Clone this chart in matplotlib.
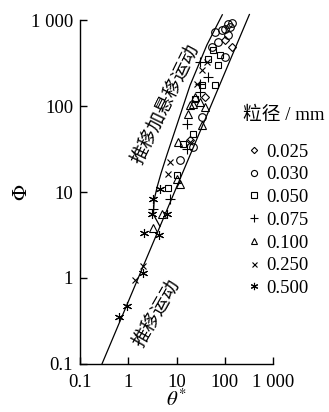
import numpy as np
import matplotlib
matplotlib.use("Agg")
import matplotlib.pyplot as plt
from matplotlib.ticker import FixedLocator, FixedFormatter, NullLocator

plt.rcParams['font.family'] = ['Liberation Serif', 'Noto Sans CJK SC']
plt.rcParams['mathtext.fontset'] = 'stix'

# data: theta*, Phi for each grain size (mm)
d025_x = [140, 100, 38.7, 18.9]
d025_y = [481, 580, 127, 40.5]
d030_x = [140, 116, 128, 100, 87, 116, 100, 72, 54, 62, 33.6, 21.9, 11.7]
d030_y = [935, 887, 819, 777, 756, 662, 369, 550, 481, 717, 74.6, 33.6, 23.8]
d050_x = [10.2, 6.6, 13.6, 79, 72, 62, 33.6, 21.9, 57, 45, 24]
d050_y = [15.9, 11.0, 36.4, 389, 298, 175, 175, 47.5, 444, 349, 120]
d075_x = [7.3, 3.25, 16.4, 16.4, 44.7, 30.5, 30.5, 30.5]
d075_y = [8.4, 6.3, 31.8, 61.8, 216, 180, 323, 145]
d100_x = [3.25, 5.0, 10.2, 11.7, 10.7, 33.6, 18.9, 24, 30.5, 38.7, 17.2, 21.9]
d100_y = [3.79, 5.5, 14.0, 12.5, 38.4, 60.3, 103, 127, 111, 97, 80.8, 105]
d250_x = [1.38, 2.0, 6.6, 7.3, 18.9, 42.7, 33.6, 26.4]
d250_y = [0.95, 1.38, 16.4, 22.5, 38.4, 323, 261, 180]
d500_x = [0.64, 0.94, 2.0, 2.1, 4.3, 3.1, 6.3, 3.25, 4.5]
d500_y = [0.35, 0.47, 1.15, 3.3, 3.2, 5.6, 5.6, 8.4, 10.7]

sizes = ['0.025', '0.030', '0.050', '0.075', '0.100', '0.250', '0.500']

# boundary lines
line_x = [0.285, 324]
line_y = [0.1, 1158]
curve_x = [4.55, 3.31, 3.47, 3.98, 4.79, 6.31, 10.2, 19.1, 42.7, 89]
curve_y = [3.98, 5.5, 8.3, 11.5, 16.6, 26.9, 60.3, 174, 513, 1150]

fig = plt.figure(figsize=(3.29, 4.12), dpi=100)
ax = fig.add_axes([80/329, 1-364/412, (273-80)/329, (364-20)/412])
ax.set_xscale('log')
ax.set_yscale('log')
ax.set_xlim(0.1, 1000)
ax.set_ylim(0.1, 1000)

ax.plot(line_x, line_y, color='black', lw=0.9, clip_on=False)
ax.plot(curve_x, curve_y, color='black', lw=0.9, clip_on=False)

series = [(d025_x, d025_y, 'D', 4), (d030_x, d030_y, 'o', 5.5),
          (d050_x, d050_y, 's', 5), (d075_x, d075_y, '+', 6.5),
          (d100_x, d100_y, '^', 6), (d250_x, d250_y, 'x', 4.5),
          (d500_x, d500_y, (6, 2, 0), 6.5)]
handles = []
for (xs, ys, m, ms), lab in zip(series, sizes):
    h, = ax.plot(xs, ys, ls='none', marker=m, ms=ms, mfc='none', mec='black',
                 mew=0.8, label=lab, clip_on=False)
    handles.append(h)

for side in ['top', 'right']:
    ax.spines[side].set_visible(False)
ax.spines['left'].set_linewidth(1.0)
ax.spines['bottom'].set_linewidth(1.0)

ticks = [0.1, 1, 10, 100, 1000]
labels = ['0.1', '1', '10', '100', '1 000']
ax.xaxis.set_major_locator(FixedLocator(ticks))
ax.xaxis.set_major_formatter(FixedFormatter(labels))
ax.yaxis.set_major_locator(FixedLocator(ticks))
ax.yaxis.set_major_formatter(FixedFormatter(labels))
ax.xaxis.set_minor_locator(NullLocator())
ax.yaxis.set_minor_locator(NullLocator())
ax.tick_params(direction='in', length=5, width=1.0, labelsize=13.5)
ax.tick_params(axis='x', pad=7)
ax.tick_params(axis='y', pad=5)

ax.set_xlabel(r'$\mathit{\theta}^{*}$', fontsize=15)
ax.set_ylabel(r'$\mathit{\Phi}$', fontsize=15)
ax.xaxis.set_label_coords(0.5, -0.074)
ax.yaxis.set_label_coords(-0.25, 0.5)

ax.text(10**0.77, 10**2.02, '推移加悬移运动', rotation=64, fontsize=13.5,
        ha='center', va='center', family=['Noto Sans CJK SC'], fontweight='light')
ax.text(10**0.59, 10**(-0.41), '推移运动', rotation=60, fontsize=13.5,
        ha='center', va='center', family=['Noto Sans CJK SC'], fontweight='light')

fig.text(284/329, 1-115/412, '粒径 / mm', fontsize=13.5, ha='center', va='center')
leg = fig.legend(handles=handles, labels=sizes, loc='upper left',
                 bbox_to_anchor=(238/329, 1-134/412), frameon=False,
                 fontsize=13.5, handlelength=0.7, handletextpad=0.3,
                 labelspacing=0.3, markerscale=0.8, borderpad=0)

fig.savefig('out.png', dpi=100)
